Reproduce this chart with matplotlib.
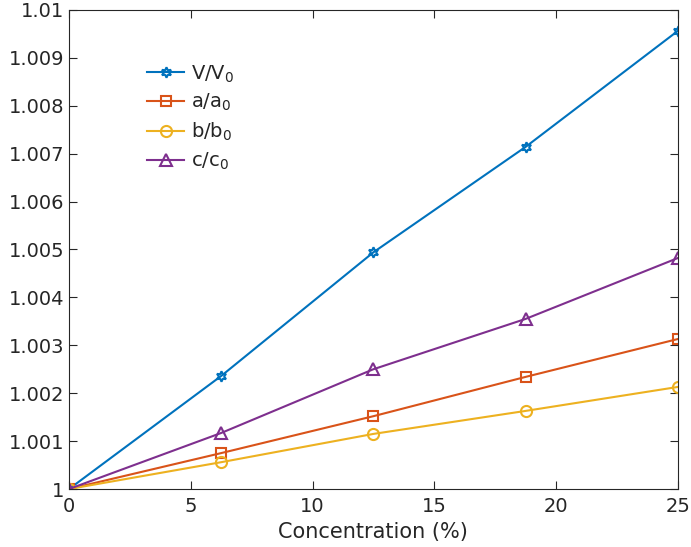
import numpy as np
import matplotlib.pyplot as plt
from matplotlib.ticker import FixedLocator, FixedFormatter

# Relative lattice change vs. dopant concentration
conc = [0, 6.25, 12.5, 18.75, 25]
v_ratio = [1.0, 1.00236, 1.00494, 1.00714, 1.00956]
a_ratio = [1.0, 1.00075, 1.00152, 1.00234, 1.00313]
b_ratio = [1.0, 1.00056, 1.00115, 1.00163, 1.00213]
c_ratio = [1.0, 1.00117, 1.00250, 1.00355, 1.00482]

y_ticks = [1 + 0.001 * i for i in range(11)]
y_labels = ['1'] + ['%.3f' % v for v in y_ticks[1:-1]] + ['1.01']

fig = plt.figure(figsize=(6.91, 5.47), dpi=100)
ax = fig.add_axes([0.0999, 0.106, 0.881, 0.876])

ax.plot(conc, v_ratio, color='#0072BD', lw=1.5, marker=(6, 1, 0), ms=7.5,
        mfc='none', mew=1.5, label='V/V$_0$')
ax.plot(conc, a_ratio, color='#D95319', lw=1.5, marker='s', ms=7,
        mfc='none', mew=1.5, label='a/a$_0$')
ax.plot(conc, b_ratio, color='#EDB120', lw=1.5, marker='o', ms=8,
        mfc='none', mew=1.5, label='b/b$_0$')
ax.plot(conc, c_ratio, color='#7E2F8E', lw=1.5, marker='^', ms=8,
        mfc='none', mew=1.5, label='c/c$_0$')

ax.set_xlim(0, 25)
ax.set_ylim(1.0, 1.01)
ax.set_xticks([0, 5, 10, 15, 20, 25])
ax.yaxis.set_major_locator(FixedLocator(y_ticks))
ax.yaxis.set_major_formatter(FixedFormatter(y_labels))

for s in ax.spines.values():
    s.set_color('#262626')
    s.set_linewidth(0.8)
ax.tick_params(direction='in', length=6, width=0.8, colors='#262626',
               labelsize=14, top=True, right=True)
ax.tick_params(axis='x', pad=6)

ax.set_xlabel('Concentration (%)', fontsize=15, color='#262626')

leg = ax.legend(loc='upper left', bbox_to_anchor=(0.1, 0.925), frameon=False,
                fontsize=14, handlelength=1.9, labelspacing=0.38,
                handletextpad=0.35)
for t in leg.get_texts():
    t.set_color('#262626')

fig.savefig('out.png', dpi=100)
